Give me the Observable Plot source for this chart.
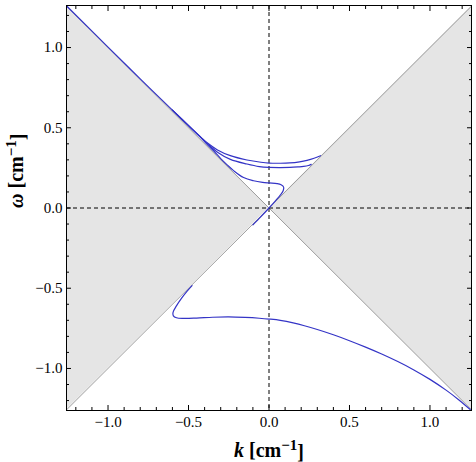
<!DOCTYPE html>
<html>
<head>
<meta charset="utf-8">
<script src="https://cdn.jsdelivr.net/npm/d3@7"></script>
<script src="https://cdn.jsdelivr.net/npm/@observablehq/plot@0.6"></script>
<style>
  html, body { margin: 0; padding: 0; background: #fff; }
</style>
</head>
<body>
<div id="chart"></div>
<script>
// ---- data ----
const kDomain = [-1.258, 1.258];
const wDomain = [-1.262, 1.262];
const lightConeK = [-1.26, 0, 1.26];
const majorTicks = [-1, -0.5, 0, 0.5, 1];
const minorTicks = [-1.2, -1.1, -0.9, -0.8, -0.7, -0.6, -0.4, -0.3, -0.2, -0.1,
                    0.1, 0.2, 0.3, 0.4, 0.6, 0.7, 0.8, 0.9, 1.1, 1.2];
const xLabel = "k [cm⁻¹]";
const yLabel = "ω [cm⁻¹]";

// branch A (upper, highest)
const curveA = [[-1.26, 1.262], [-1.0, 1.003], [-0.8, 0.805], [-0.6, 0.61], [-0.5, 0.513],
  [-0.43, 0.447], [-0.38, 0.403], [-0.32, 0.362], [-0.24, 0.326], [-0.137, 0.299], [-0.05, 0.285],
  [0.0, 0.28], [0.07, 0.279], [0.13, 0.281], [0.19, 0.288], [0.236, 0.297], [0.28, 0.31], [0.32, 0.326]];
// branch B (upper, middle)
const curveB = [[-0.6, 0.61], [-0.5, 0.513], [-0.43, 0.446], [-0.38, 0.398], [-0.32, 0.348],
  [-0.24, 0.303], [-0.137, 0.274], [-0.06, 0.258], [0.0, 0.253], [0.07, 0.252], [0.13, 0.253],
  [0.18, 0.256], [0.215, 0.259], [0.245, 0.265], [0.262, 0.272]];
// branch C (upper, lowest, folding back through origin)
const curveC = [[-0.6, 0.61], [-0.5, 0.513], [-0.43, 0.445], [-0.385, 0.397], [-0.34, 0.352],
  [-0.3, 0.308], [-0.26, 0.269], [-0.22, 0.233], [-0.158, 0.19], [-0.096, 0.17], [-0.04, 0.16], [0.0, 0.156],
  [0.05, 0.152], [0.075, 0.145], [0.091, 0.13], [0.088, 0.108], [0.07, 0.08], [0.04, 0.045],
  [0.0, 0.0], [-0.05, -0.054], [-0.1, -0.105]];
// branch D (lower)
const curveD = [[-0.478, -0.484], [-0.51, -0.52], [-0.545, -0.565], [-0.575, -0.61],
  [-0.596, -0.65], [-0.594, -0.672], [-0.575, -0.684], [-0.53, -0.688], [-0.45, -0.686],
  [-0.35, -0.681], [-0.25, -0.679], [-0.15, -0.682], [-0.06, -0.687], [0.0, -0.692],
  [0.07, -0.700], [0.15, -0.716], [0.3, -0.757], [0.4, -0.790], [0.5, -0.827], [0.6, -0.867],
  [0.7, -0.910], [0.8, -0.957], [0.9, -1.009], [1.0, -1.068], [1.1, -1.135],
  [1.18, -1.196], [1.25, -1.256]];

// ---- chart ----
const fmt = d => d.toFixed(1).replace("-", "\u2212");
const blue = "#3434c6";
const lineOpts = {x: d => d[0], y: d => d[1], stroke: blue, strokeWidth: 1.2, curve: "catmull-rom", clip: true};

const chart = Plot.plot({
  width: 476,
  height: 462,
  marginLeft: 66,
  marginRight: 5,
  marginTop: 5,
  marginBottom: 52,
  style: {fontFamily: "'Liberation Serif', 'Times New Roman', serif", fontSize: "15px", background: "#fff", color: "#000"},
  x: {domain: kDomain, axis: null},
  y: {domain: wDomain, axis: null},
  marks: [
    Plot.areaY(lightConeK, {x: d => d, y1: d => -Math.abs(d), y2: d => Math.abs(d), fill: "#e5e5e5", clip: true}),
    Plot.line(lightConeK, {x: d => d, y: d => d, stroke: "#9c9c9c", strokeWidth: 1, clip: true}),
    Plot.line(lightConeK, {x: d => d, y: d => -d, stroke: "#9c9c9c", strokeWidth: 1, clip: true}),
    Plot.ruleX([0], {stroke: "#000", strokeDasharray: "4,3", strokeWidth: 1}),
    Plot.ruleY([0], {stroke: "#000", strokeDasharray: "4,3", strokeWidth: 1}),
    Plot.line(curveA, lineOpts),
    Plot.line(curveB, lineOpts),
    Plot.line(curveC, lineOpts),
    Plot.line(curveD, lineOpts),
    // inward ticks on all four sides
    Plot.axisX(majorTicks, {anchor: "bottom", tickSize: -5, tickFormat: () => ""}),
    Plot.axisX(minorTicks, {anchor: "bottom", tickSize: -3, tickFormat: () => ""}),
    Plot.axisX(majorTicks, {anchor: "top", tickSize: -5, tickFormat: () => ""}),
    Plot.axisX(minorTicks, {anchor: "top", tickSize: -3, tickFormat: () => ""}),
    Plot.axisY(majorTicks, {anchor: "left", tickSize: -5, tickFormat: () => ""}),
    Plot.axisY(minorTicks, {anchor: "left", tickSize: -3, tickFormat: () => ""}),
    Plot.axisY(majorTicks, {anchor: "right", tickSize: -5, tickFormat: () => ""}),
    Plot.axisY(minorTicks, {anchor: "right", tickSize: -3, tickFormat: () => ""}),
    // tick labels
    Plot.axisX(majorTicks, {anchor: "bottom", tickSize: 0, tickPadding: 6, tickFormat: fmt, label: null, fontSize: 15, fontFamily: "Liberation Serif"}),
    Plot.axisY(majorTicks, {anchor: "left", tickSize: 0, tickPadding: 4, tickFormat: fmt, label: null, fontSize: 15, fontFamily: "Liberation Serif"}),
    // axis titles
    Plot.text([xLabel], {frameAnchor: "bottom", dy: 40, text: d => d, fontSize: 20, fontWeight: "bold", lineAnchor: "middle", fontFamily: "Liberation Serif"}),
    Plot.text([yLabel], {frameAnchor: "left", dx: -50, rotate: -90, text: d => d, fontSize: 20, fontWeight: "bold", lineAnchor: "middle", fontFamily: "Liberation Serif"}),
    Plot.frame({stroke: "#000", strokeWidth: 1})
  ]
});

// rich formatting of axis titles (italic symbol, superscript)
d3.select(chart).selectAll("text").each(function() {
  const t = this.textContent;
  if (t === xLabel || t === yLabel) {
    const sym = t === xLabel ? "k" : "ω";
    this.textContent = "";
    const s = d3.select(this);
    s.append("tspan").attr("font-style", "italic").text(sym);
    s.append("tspan").text(" [cm");
    s.append("tspan").attr("dy", "-0.45em").attr("font-size", "15px").text("\u22121");
    s.append("tspan").attr("dy", "0.45em").text("]");
  }
});

document.getElementById("chart").appendChild(chart);
</script>
</body>
</html>
